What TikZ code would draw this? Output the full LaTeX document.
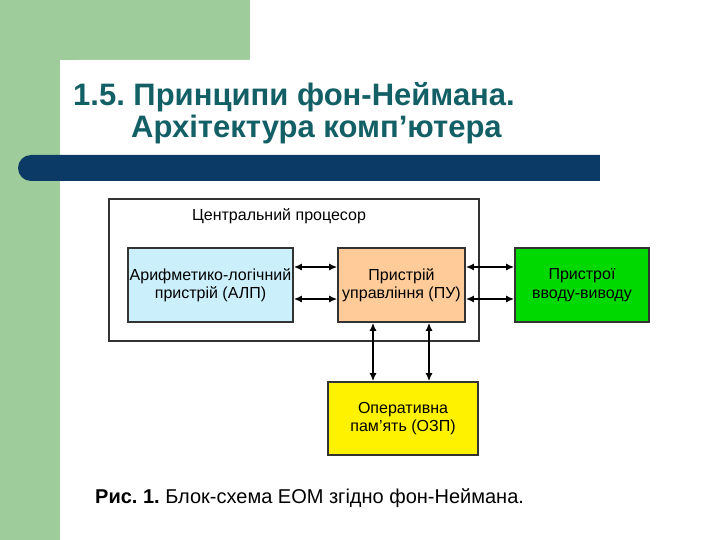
\documentclass[tikz,border=0pt]{standalone}
\usepackage{fontspec}
\setmainfont{Liberation Sans}
\frenchspacing
\usetikzlibrary{arrows.meta}
\definecolor{sgreen}{HTML}{9ECC9A}
\definecolor{navy}{HTML}{0B3A66}
\definecolor{teal}{HTML}{135F66}
\tikzset{
  blk/.style={draw=black!80,line width=1.6pt,align=center,font=\fontsize{16}{18.5}\selectfont,inner sep=0pt},
  arr/.style={{Latex[length=8pt,width=7pt]}-{Latex[length=8pt,width=7pt]},line width=1.6pt}
}
\begin{document}
\begin{tikzpicture}[x=1pt,y=-1pt]
\useasboundingbox (0,0) rectangle (720,540);
\fill[white] (0,0) rectangle (720,540);
\fill[sgreen] (0,0) rectangle (250,60);
\fill[sgreen] (0,0) rectangle (60,540);
\fill[white,rounded corners=16pt] (60,60) rectangle (740,560);
\fill[navy,rounded corners=13pt] (18,155) rectangle (640,181);
\fill[white] (600,150) rectangle (720,190);
\node[anchor=base west,text=teal,font=\bfseries\fontsize{31}{34}\selectfont,inner sep=0pt] (t1) at (73,106) {1.5. Принципи фон-Неймана.};
\node[anchor=base west,text=teal,font=\bfseries\fontsize{31}{34}\selectfont,inner sep=0pt] (t2) at (131,138) {Архітектура комп’ютера};
\node[draw=black!80,line width=1.6pt,minimum width=370pt,minimum height=142pt,inner sep=0pt] (cpu) at (294,270) {};
\node[font=\fontsize{16}{18}\selectfont] (cpul) at (279,216) {Центральний процесор};
\node[blk,fill=cyan!20,minimum width=165pt,minimum height=74pt] (alu) at (210.5,285) {Арифметико-логічний\\пристрій (АЛП)};
\node[blk,fill=orange!40!white,minimum width=127pt,minimum height=74pt] (cu) at (401.5,285) {Пристрій\\управління (ПУ)};
\node[blk,fill=green!85!black,minimum width=134pt,minimum height=74pt] (io) at (582,285) {Пристрої\\вводу-виводу};
\node[blk,fill=yellow,minimum width=150pt,minimum height=73pt] (ram) at (403,418.5) {Оперативна\\пам'ять (ОЗП)};
\draw[arr] (alu.east|-0,267) -- (cu.west|-0,267);
\draw[arr] (alu.east|-0,299) -- (cu.west|-0,299);
\draw[arr] (cu.east|-0,267) -- (io.west|-0,267);
\draw[arr] (cu.east|-0,299) -- (io.west|-0,299);
\draw[arr] (373,0|-cu.south) -- (373,0|-ram.north);
\draw[arr] (429,0|-cu.south) -- (429,0|-ram.north);
\node[anchor=base west,font=\fontsize{20}{23}\selectfont,inner sep=0pt] (cap) at (95,503) {\textbf{Рис. 1.} Блок-схема ЕОМ згідно фон-Неймана.};
\end{tikzpicture}
\end{document}
